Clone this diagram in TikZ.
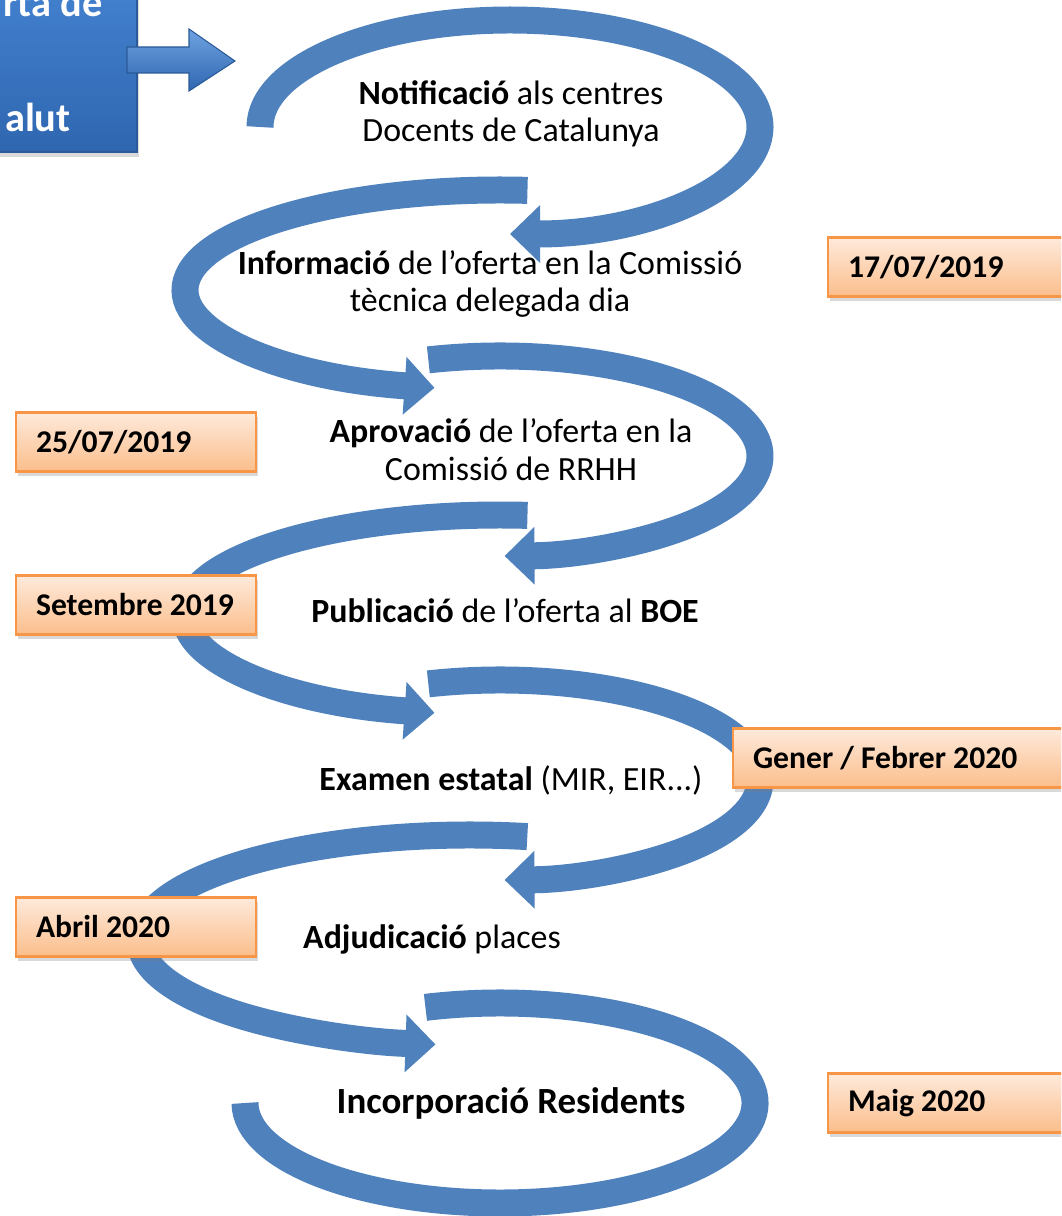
\documentclass[tikz,border=0pt]{standalone}
\usepackage{fontspec}
\setmainfont{Carlito}
\usetikzlibrary{arrows.meta,shadows}

\definecolor{bandblue}{HTML}{4F81BD}
\definecolor{dateline}{HTML}{F79646}
\definecolor{datetop}{HTML}{FEEADB}
\definecolor{datebot}{HTML}{FBBE8C}
\definecolor{boxtop}{HTML}{4A8BDA}
\definecolor{boxbot}{HTML}{2F66B0}
\definecolor{boxline}{HTML}{2A5A98}

\begin{document}
\begin{tikzpicture}[x=0.02cm, y=0.02cm,
    band/.style={draw=bandblue, line width=0.54cm},
    bandarrow/.style={band, -{Triangle[length=0.6cm,width=1.12cm]}},
    datebox/.style={draw=dateline, line width=1.2pt, top color=datetop, bottom color=datebot,
      anchor=west, minimum height=1.18cm, inner xsep=0.4cm, text width=4cm, align=left,
      font=\fontsize{18}{22}\selectfont\bfseries, execute at begin node={\spaceskip=0pt\relax},
      drop shadow={opacity=0.3, shadow xshift=1pt, shadow yshift=-2.5pt}},
    steptext/.style={align=center, anchor=base, inner sep=0pt, font=\fontsize{19.3}{21.5}\selectfont},
    boxtext/.style={text=white, anchor=base east, inner sep=0pt, font=\fontsize{23}{27}\selectfont\bfseries}]
    \useasboundingbox (0,0) rectangle (1061,-1216);
    \clip (0,0) rectangle (1061,-1216);

    % oferta box (cut by the page)
    \node[draw=boxline, line width=1pt, top color=boxtop, bottom color=boxbot, anchor=south east,
      minimum width=6cm, minimum height=4.6cm,
      drop shadow={opacity=0.3, shadow xshift=1pt, shadow yshift=-2.5pt}] (oferta) at (138,-153) {};
    \node[boxtext] (ofertaA) at (103,-17) {rta de};
    \node[boxtext] (ofertaB) at (71,-132) {alut};
    \path[draw=boxline, line width=0.6pt, top color=boxtop!80!white, bottom color=boxbot]
      (127,-47) -- (189,-47) -- (189,-29) -- (235,-61) -- (189,-91) -- (189,-73) -- (127,-73) -- cycle;

    % loop centres
    \coordinate (c1) at (510,-127);
    \coordinate (c2) at (500,-290);
    \coordinate (c3) at (500,-456);
    \coordinate (c4) at (500,-615);
    \coordinate (c5) at (500,-780);
    \coordinate (c6) at (470,-940);
    \coordinate (c7) at (500,-1103);

    \draw[bandarrow] ([shift={(180:250 and 107)}]c1) arc[start angle=180, end angle=-90, x radius=250, y radius=107];
    \draw[bandarrow] ([shift={(85:315 and 100)}]c2) arc[start angle=85, end angle=258, x radius=315, y radius=100];
    \draw[bandarrow] ([shift={(106:260 and 100)}]c3) arc[start angle=106, end angle=-89, x radius=260, y radius=100];
    \draw[bandarrow] ([shift={(85:315 and 100)}]c4) arc[start angle=85, end angle=258, x radius=315, y radius=100];
    \draw[bandarrow] ([shift={(106:260 and 100)}]c5) arc[start angle=106, end angle=-89, x radius=260, y radius=100];
    \draw[bandarrow] ([shift={(80:330 and 105)}]c6) arc[start angle=80, end angle=264, x radius=330, y radius=105];
    \draw[band] ([shift={(107:255 and 100)}]c7) arc[start angle=107, end angle=-180, x radius=255, y radius=100];

    % steps (base = last line)
    \node[steptext] (notif) at (511,-142) {\textbf{Notificació} als centres\\Docents de Catalunya};
    \node[steptext] (info) at (490,-312) {\textbf{Informació} de l’oferta en la Comissió\\tècnica delegada dia};
    \node[steptext] (aprov) at (511,-480) {\textbf{Aprovació} de l’oferta en la\\Comissió de RRHH};
    \node[steptext] (publ) at (505,-622) {\textbf{Publicació} de l’oferta al \textbf{BOE}};
    \node[steptext] (exam) at (511,-790) {\textbf{Examen estatal} (MIR, EIR...)};
    \node[steptext] (adju) at (432,-948) {\textbf{Adjudicació} places};
    \node[steptext, font=\fontsize{21}{24}\selectfont\bfseries] (incorp) at (511,-1113) {Incorporació Residents};

    % dates
    \node[datebox] (d1) at (827,-267) {17/07/2019};
    \node[datebox] (d2) at (15,-442) {25/07/2019};
    \node[datebox] (d3) at (15,-605) {\mbox{Setembre 2019}};
    \node[datebox, text width=6.2cm] (d4) at (732,-758) {Gener / Febrer 2020};
    \node[datebox] (d5) at (15,-927) {Abril 2020};
    \node[datebox] (d6) at (827,-1103) {Maig 2020};
\end{tikzpicture}
\end{document}
